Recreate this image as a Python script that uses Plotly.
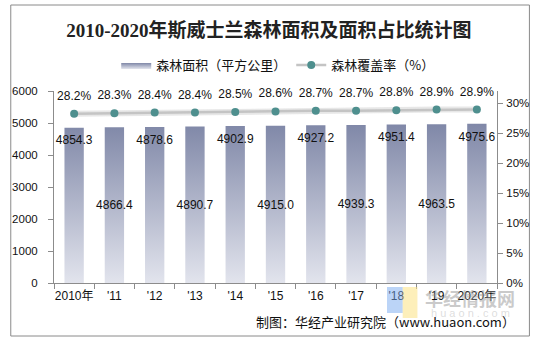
import plotly.graph_objects as go

# ---- data ----
years = ["2010年", "'11", "'12", "'13", "'14", "'15", "'16", "'17", "'18", "'19", "2020年"]
area = [4854.3, 4866.4, 4878.6, 4890.7, 4902.9, 4915.0, 4927.2, 4939.3, 4951.4, 4963.5, 4975.6]
rate = [28.2, 28.3, 28.4, 28.4, 28.5, 28.6, 28.7, 28.7, 28.8, 28.9, 28.9]
rate_ticks = [0, 5, 10, 15, 20, 25, 30]

W, H = 541, 342
L, R, T, B = 48, 42, 91, 59
PW, PH = W - L - R, H - T - B
BAR_W = 0.48
FONT = "Liberation Sans, Arial, Noto Sans CJK SC"


def px(x):
    return (x - L) / PW


def py(y):
    return (H - B - y) / PH


idx = list(range(len(years)))

# bar outlines built from the data (category index +/- half width, 0 -> value)
bx, by = [], []
for i, v in zip(idx, area):
    bx += [i - BAR_W / 2, i + BAR_W / 2, i + BAR_W / 2, i - BAR_W / 2, i - BAR_W / 2, None]
    by += [0, 0, v, v, 0, None]

fig = go.Figure()

fig.add_trace(go.Scatter(
    x=bx, y=by, mode="lines", fill="toself",
    line=dict(width=0, color="#8a92b0"),
    fillcolor="#aab0c8",
    fillgradient=dict(type="vertical", start=0, stop=5000,
                      colorscale=[[0, "#e2e4ed"], [1, "#7f87a7"]]),
    name="森林面积（平方公里）", hoverinfo="skip", showlegend=True,
))

# bar value labels (alternating inside-top / middle as in the original)
lab_y = [v - 430 if i % 2 == 0 else v / 2 - 40 for i, v in zip(idx, area)]
fig.add_trace(go.Scatter(
    x=idx, y=lab_y, mode="text", text=[f"{v:.1f}" for v in area],
    textposition="middle center", cliponaxis=False,
    textfont=dict(family=FONT, size=12, color="#111111"),
    showlegend=False, hoverinfo="skip",
))

# soft shadow under the rate line
fig.add_trace(go.Scatter(
    x=idx, y=rate, yaxis="y2", mode="lines",
    line=dict(color="rgba(120,120,120,0.18)", width=6),
    showlegend=False, hoverinfo="skip",
))

fig.add_trace(go.Scatter(
    x=idx, y=rate, yaxis="y2", mode="lines+markers",
    line=dict(color="#c4c4c4", width=2.5),
    marker=dict(color="#4e8f8e", size=8),
    name="森林覆盖率（%）",
))

# rate labels above the points
fig.add_trace(go.Scatter(
    x=idx, y=[r + 2.85 for r in rate], yaxis="y2", mode="text",
    text=[f"{r:.1f}%" for r in rate], textposition="middle center", cliponaxis=False,
    textfont=dict(family=FONT, size=12, color="#111111"),
    showlegend=False, hoverinfo="skip",
))

axis_col = "#8c8c8c"
fig.update_layout(
    width=W, height=H,
    margin=dict(l=L, r=R, t=T, b=B, pad=0),
    paper_bgcolor="white", plot_bgcolor="white",
    font=dict(family=FONT, size=12, color="#111111"),
    title=dict(text="<b>2010-2020年斯威士兰森林面积及面积占比统计图</b>",
               x=0.497, xanchor="center", y=1 - 30 / H, yanchor="middle",
               font=dict(family="Liberation Serif, Noto Sans CJK SC", size=19, color="#222222")),
    legend=dict(orientation="h", x=0.505, xanchor="center", y=py(65), yanchor="middle",
                font=dict(family="Noto Sans CJK SC", size=13, color="#111111"),
                itemwidth=30, bgcolor="rgba(0,0,0,0)", traceorder="normal"),
    xaxis=dict(range=[-0.5, len(years) - 0.5], tickmode="array", tickvals=idx, ticktext=years,
               showline=True, linecolor=axis_col, linewidth=1, showgrid=False, zeroline=False,
               ticks="outside", ticklen=0, tickcolor=axis_col,
               minor=dict(tickmode="linear", tick0=-0.5, dtick=1, ticks="outside",
                          ticklen=5, tickcolor=axis_col, showgrid=False),
               tickfont=dict(family=FONT, size=12, color="#111111"), ticklabelstandoff=2),
    yaxis=dict(range=[0, 6000], dtick=1000, showline=True, linecolor=axis_col, linewidth=1,
               showgrid=False, zeroline=False, ticks="outside", ticklen=5, tickcolor=axis_col,
               tickfont=dict(family=FONT, size=11.5, color="#111111"), ticklabelstandoff=8),
    yaxis2=dict(range=[0, 32], tickmode="array", tickvals=rate_ticks,
                ticktext=[f"{t}%" for t in rate_ticks],
                overlaying="y", side="right", showline=True, linecolor=axis_col, linewidth=1,
                showgrid=False, zeroline=False, ticks="outside", ticklen=5, tickcolor=axis_col,
                tickfont=dict(family=FONT, size=11.5, color="#111111"), ticklabelstandoff=1),
    showlegend=True,
)

# outer border
fig.add_shape(type="rect", xref="paper", yref="paper",
              x0=px(4), x1=px(532), y0=py(336), y1=py(5),
              line=dict(color="#8a8a8a", width=1), layer="below")

# watermark logo + text
fig.add_shape(type="rect", xref="paper", yref="paper",
              x0=px(387), x1=px(403), y0=py(313), y1=py(287),
              fillcolor="rgba(120,170,240,0.5)", line=dict(width=0), layer="above")
fig.add_shape(type="rect", xref="paper", yref="paper",
              x0=px(403), x1=px(418), y0=py(318), y1=py(287),
              fillcolor="rgba(252,225,130,0.55)", line=dict(width=0), layer="above")
fig.add_annotation(text="<b>华经情报网</b>", xref="paper", yref="paper",
                   x=px(472), y=py(298), xanchor="center", yanchor="middle", showarrow=False,
                   font=dict(family="Noto Sans CJK SC", size=18, color="rgba(150,150,150,0.5)"))
fig.add_annotation(text="h u a o n . c o m", xref="paper", yref="paper",
                   x=px(472), y=py(313), xanchor="center", yanchor="middle", showarrow=False,
                   font=dict(family="Liberation Sans", size=11, color="rgba(170,170,170,0.4)"))

# source note
fig.add_annotation(text="制图：华经产业研究院（www.huaon.com）", xref="paper", yref="paper",
                   x=px(519), y=py(321), xanchor="right", yanchor="middle", showarrow=False,
                   font=dict(family="Noto Sans CJK SC, Liberation Sans", size=13, color="#111111"))

fig.write_html("out.html")
